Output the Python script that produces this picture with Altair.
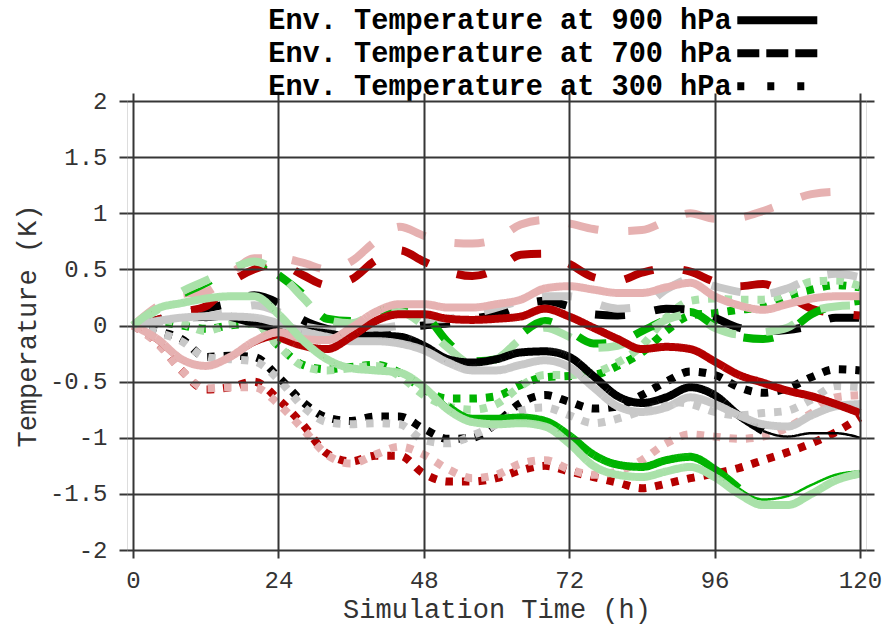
import altair as alt
import pandas as pd

# Sample times (hours) shared by every series
HOURS = list(range(0, 121, 4))

# 900 hPa runs
black_900 = [0, 0.06, 0.07, 0.05, 0.08, 0.02, -0.03, -0.05, -0.07, -0.1, -0.09, -0.1, -0.18, -0.3, -0.33, -0.3,
             -0.24, -0.23, -0.28, -0.45, -0.63, -0.69, -0.64, -0.55, -0.62, -0.8, -0.94, -0.99, -0.96, -0.96, -1.0]
gray_900 = [0, 0.04, 0.07, 0.08, 0.08, 0.07, 0.02, -0.05, -0.1, -0.14, -0.14, -0.16, -0.22, -0.33, -0.4, -0.4,
            -0.35, -0.31, -0.37, -0.55, -0.72, -0.77, -0.73, -0.64, -0.7, -0.8, -0.88, -0.9, -0.8, -0.72, -0.7]
red_900 = [0, -0.15, -0.32, -0.37, -0.3, -0.17, -0.1, -0.18, -0.21, -0.1, 0.04, 0.1, 0.1, 0.06, 0.05, 0.06,
           0.08, 0.15, 0.08, -0.02, -0.12, -0.21, -0.19, -0.21, -0.32, -0.44, -0.51, -0.58, -0.63, -0.7, -0.78]
pink_900 = [0, -0.12, -0.3, -0.36, -0.28, -0.14, -0.06, -0.12, -0.13, -0.02, 0.12, 0.19, 0.19, 0.16, 0.16, 0.19,
            0.23, 0.33, 0.35, 0.32, 0.29, 0.29, 0.34, 0.38, 0.26, 0.18, 0.14, 0.19, 0.24, 0.26, 0.26]
green_900 = [0, 0.15, 0.2, 0.23, 0.25, 0.25, 0.08, -0.15, -0.3, -0.37, -0.38, -0.4, -0.53, -0.72, -0.83, -0.83,
             -0.82, -0.85, -0.98, -1.15, -1.24, -1.26, -1.2, -1.17, -1.28, -1.45, -1.55, -1.52, -1.42, -1.33, -1.3]
lgreen_900 = [0, 0.15, 0.2, 0.24, 0.26, 0.26, 0.1, -0.13, -0.3, -0.38, -0.4, -0.42, -0.55, -0.75, -0.86, -0.88,
              -0.87, -0.9, -1.05, -1.25, -1.33, -1.35, -1.3, -1.26, -1.35, -1.5, -1.6, -1.6, -1.5, -1.38, -1.32]

# 700 hPa runs
black_700 = [0, 0.05, 0.1, 0.15, 0.2, 0.27, 0.2, 0.05, -0.03, -0.06, -0.05, -0.02, 0.0, 0.02, 0.06, 0.1,
             0.18, 0.22, 0.17, 0.1, 0.09, 0.11, 0.15, 0.14, 0.07, -0.02, -0.05, -0.04, 0.0, 0.07, 0.07]
gray_700 = [0, 0.03, 0.06, 0.08, 0.12, 0.18, 0.12, 0.0, -0.04, -0.06, -0.03, 0.0, 0.05, 0.06, 0.1, 0.16,
            0.22, 0.26, 0.26, 0.2, 0.15, 0.17, 0.32, 0.41, 0.35, 0.3, 0.28, 0.33, 0.42, 0.46, 0.43]
red_700 = [0, 0.05, 0.12, 0.17, 0.38, 0.5, 0.55, 0.45, 0.36, 0.41, 0.58, 0.67, 0.57, 0.48, 0.44, 0.5,
           0.63, 0.64, 0.55, 0.43, 0.4, 0.47, 0.51, 0.48, 0.39, 0.35, 0.37, 0.27, 0.15, 0.11, 0.09]
pink_700 = [0, 0.17, 0.28, 0.3, 0.45, 0.6, 0.6, 0.56, 0.5, 0.57, 0.75, 0.88, 0.8, 0.74, 0.73, 0.77,
            0.9, 0.94, 0.91, 0.86, 0.84, 0.85, 0.93, 1.0, 0.95, 0.96, 1.02, 1.1, 1.17, 1.19, 1.19]
green_700 = [0, 0.12, 0.25, 0.35, 0.47, 0.55, 0.45, 0.28, 0.06, 0.04, 0.12, 0.17, 0.1, -0.15, -0.32, -0.3,
             -0.08, 0.04, -0.05, -0.16, -0.15, -0.05, 0.05, 0.12, 0.0, -0.1, -0.12, -0.06, 0.1, 0.18, 0.22]
lgreen_700 = [0, 0.14, 0.3, 0.4, 0.5, 0.57, 0.47, 0.25, 0.05, 0.02, 0.1, 0.12, 0.0, -0.2, -0.34, -0.3,
              -0.12, -0.02, -0.1, -0.2, -0.18, -0.08, 0.05, 0.1, -0.02, -0.08, -0.06, -0.02, 0.12, 0.17, 0.18]

# 300 hPa runs
black_300 = [0, -0.05, -0.12, -0.28, -0.27, -0.28, -0.46, -0.68, -0.82, -0.85, -0.81, -0.81, -0.92, -1.01, -1.0, -0.87,
             -0.69, -0.62, -0.68, -0.74, -0.72, -0.62, -0.5, -0.41, -0.44, -0.55, -0.6, -0.56, -0.46, -0.39, -0.4]
gray_300 = [0, -0.06, -0.14, -0.28, -0.3, -0.32, -0.48, -0.72, -0.86, -0.88, -0.87, -0.88, -1.02, -1.05, -0.98, -0.88,
            -0.76, -0.73, -0.8, -0.87, -0.83, -0.76, -0.68, -0.7, -0.77, -0.8, -0.78, -0.76, -0.66, -0.54, -0.55]
red_300 = [0, -0.15, -0.4, -0.57, -0.55, -0.5, -0.66, -0.88, -1.14, -1.21, -1.16, -1.16, -1.32, -1.39, -1.39, -1.36,
           -1.29, -1.25, -1.3, -1.35, -1.4, -1.45, -1.41, -1.36, -1.32, -1.27, -1.2, -1.13, -1.05, -0.95, -0.82]
pink_300 = [0, -0.16, -0.4, -0.56, -0.55, -0.55, -0.7, -0.92, -1.15, -1.23, -1.15, -1.08, -1.15, -1.28, -1.36, -1.33,
            -1.23, -1.2, -1.28, -1.33, -1.3, -1.2, -1.05, -0.97, -0.99, -1.01, -0.99, -0.91, -0.78, -0.64, -0.62]
green_300 = [0, 0.03, 0.0, -0.03, 0.0, 0.02, -0.18, -0.35, -0.39, -0.37, -0.35, -0.42, -0.57, -0.65, -0.65, -0.63,
             -0.53, -0.46, -0.45, -0.44, -0.36, -0.24, -0.05, 0.09, 0.11, 0.14, 0.16, 0.26, 0.32, 0.36, 0.34]
lgreen_300 = [0, 0.05, 0.02, -0.05, 0.01, 0.02, -0.18, -0.36, -0.4, -0.38, -0.36, -0.45, -0.62, -0.72, -0.75, -0.7,
              -0.54, -0.44, -0.44, -0.42, -0.33, -0.18, 0.07, 0.22, 0.24, 0.23, 0.23, 0.29, 0.39, 0.4, 0.35]

SERIES = ["black", "gray", "red", "pink", "green", "lightgreen"]
LEVELS = ["900", "700", "300"]
LEGEND_LABELS = ["Env. Temperature at 900 hPa", "Env. Temperature at 700 hPa", "Env. Temperature at 300 hPa"]

VALUES = {
    ("black", "900"): black_900, ("gray", "900"): gray_900, ("red", "900"): red_900,
    ("pink", "900"): pink_900, ("green", "900"): green_900, ("lightgreen", "900"): lgreen_900,
    ("black", "700"): black_700, ("gray", "700"): gray_700, ("red", "700"): red_700,
    ("pink", "700"): pink_700, ("green", "700"): green_700, ("lightgreen", "700"): lgreen_700,
    ("black", "300"): black_300, ("gray", "300"): gray_300, ("red", "300"): red_300,
    ("pink", "300"): pink_300, ("green", "300"): green_300, ("lightgreen", "300"): lgreen_300,
}

# Styling
COLORS = ["#000000", "#c8c8c8", "#b40000", "#e6b1b1", "#00b300", "#a9e1a9"]
THICK, THIN = 8, 2.5
# time spans (h) over which a run is drawn with a thin stroke
THIN_SPANS = {
    ("black", "900"): [(0, 16), (104, 120)],
    ("red", "900"): [(0, 24)],
    ("green", "900"): [(0, 52), (100, 120)],
    ("green", "700"): [(0, 24)],
}
DASHES = {"900": [1, 0], "700": [30, 30], "300": [7.5, 9]}
LEGEND_DASHES = [[1, 0], [22, 7], [7, 23]]
GRID = "#363636"
FONT = "Liberation Mono"

# Long table: one row per point; a run is split where its stroke width changes
rows = []
for name in SERIES:
    for level in LEVELS:
        vals = VALUES[(name, level)]
        spans = THIN_SPANS.get((name, level), [])

        def width_of(i):
            mid = (HOURS[i] + HOURS[i + 1]) / 2
            return THIN if any(a <= mid <= b for a, b in spans) else THICK

        seg = 0
        cur = width_of(0)
        rows.append(dict(series=name, level=level, t=HOURS[0], v=vals[0], seg=f"{name}-{level}-{seg}", w=cur))
        for i in range(1, len(HOURS)):
            w = width_of(i - 1)
            if w != cur:
                seg += 1
                cur = w
                rows.append(dict(series=name, level=level, t=HOURS[i - 1], v=vals[i - 1],
                                 seg=f"{name}-{level}-{seg}", w=cur))
            rows.append(dict(series=name, level=level, t=HOURS[i], v=vals[i], seg=f"{name}-{level}-{seg}", w=cur))
df = pd.DataFrame(rows)

x_scale = alt.Scale(domain=[-1, 121], nice=False, zero=False)
y_scale = alt.Scale(domain=[-2, 2], nice=False, zero=False)
color_scale = alt.Scale(domain=SERIES, range=COLORS)

x_main = alt.Axis(values=list(range(0, 121, 24)), grid=True, gridColor=GRID, gridWidth=2,
                  tickColor=GRID, tickWidth=2, tickSize=8, domain=False, zindex=1,
                  labelFont=FONT, labelFontSize=24, labelColor="#333333", labelPadding=10,
                  labelExpr="datum.value + ''",
                  title="Simulation Time (h)", titleFont=FONT, titleFontSize=27,
                  titleFontWeight="normal", titleColor="#333333", titlePadding=4)
y_main = alt.Axis(values=[-2, -1.5, -1, -0.5, 0, 0.5, 1, 1.5, 2], grid=True, gridColor=GRID, gridWidth=2,
                  tickColor=GRID, tickWidth=2, tickSize=8, domain=False, zindex=1,
                  labelFont=FONT, labelFontSize=24, labelColor="#333333", labelPadding=12,
                  labelExpr="datum.value + ''",
                  title="Temperature (K)", titleFont=FONT, titleFontSize=27,
                  titleFontWeight="normal", titleColor="#333333", titlePadding=8)
x_top = alt.Axis(orient="top", values=list(range(0, 121, 24)), grid=False, labels=False, domain=False,
                 tickColor=GRID, tickWidth=2, tickSize=8, title=None)
y_right = alt.Axis(orient="right", values=[-2, -1.5, -1, -0.5, 0, 0.5, 1, 1.5, 2], grid=False, labels=False,
                   domain=False, tickColor=GRID, tickWidth=2, tickSize=8, title=None)


def level_layer(level, x_axis, y_axis):
    return alt.Chart(df).transform_filter(alt.datum.level == level).mark_line(
        interpolate="monotone", strokeCap="butt", strokeDash=DASHES[level]
    ).encode(
        x=alt.X("t:Q", scale=x_scale, axis=x_axis),
        y=alt.Y("v:Q", scale=y_scale, axis=y_axis),
        stroke=alt.Stroke("series:N", scale=color_scale, legend=None),
        strokeWidth=alt.StrokeWidth("w:Q", scale=None),
        detail="seg:N",
    )


dotted = level_layer("300", x_main, y_main)
dashed = level_layer("700", x_top, y_right)
solid = level_layer("900", None, None)

# Line-style key (single-point lines, so only the legend shows)
key = alt.Chart(pd.DataFrame({"label": LEGEND_LABELS})).mark_line(color="black", strokeWidth=8).encode(
    x=alt.value(0), y=alt.value(0),
    strokeDash=alt.StrokeDash(
        "label:N",
        scale=alt.Scale(domain=LEGEND_LABELS, range=LEGEND_DASHES),
        legend=alt.Legend(
            orient="none", legendX=636, legendY=-95, title=None, padding=0,
            symbolType="M-4,0H4", symbolSize=400, symbolStrokeWidth=8, symbolStrokeColor="black",
            labelFont=FONT, labelFontWeight="bold", labelFontSize=28.6, labelColor="black",
            labelAlign="right", labelOffset={"expr": "-60"}, labelLimit=1000,
            rowPadding=0,
        ),
    ),
)

chart = alt.layer(dotted, dashed, solid, key).resolve_axis(
    x="independent", y="independent"
).properties(
    width=739, height=449,
    autosize=alt.AutoSizeParams(type="none"),
    padding={"left": 127, "top": 101, "right": 18, "bottom": 79},
).configure_view(stroke=GRID, strokeWidth=2).configure(background="white")

chart.save("out.html", embed_options={"renderer": "svg", "actions": False})
